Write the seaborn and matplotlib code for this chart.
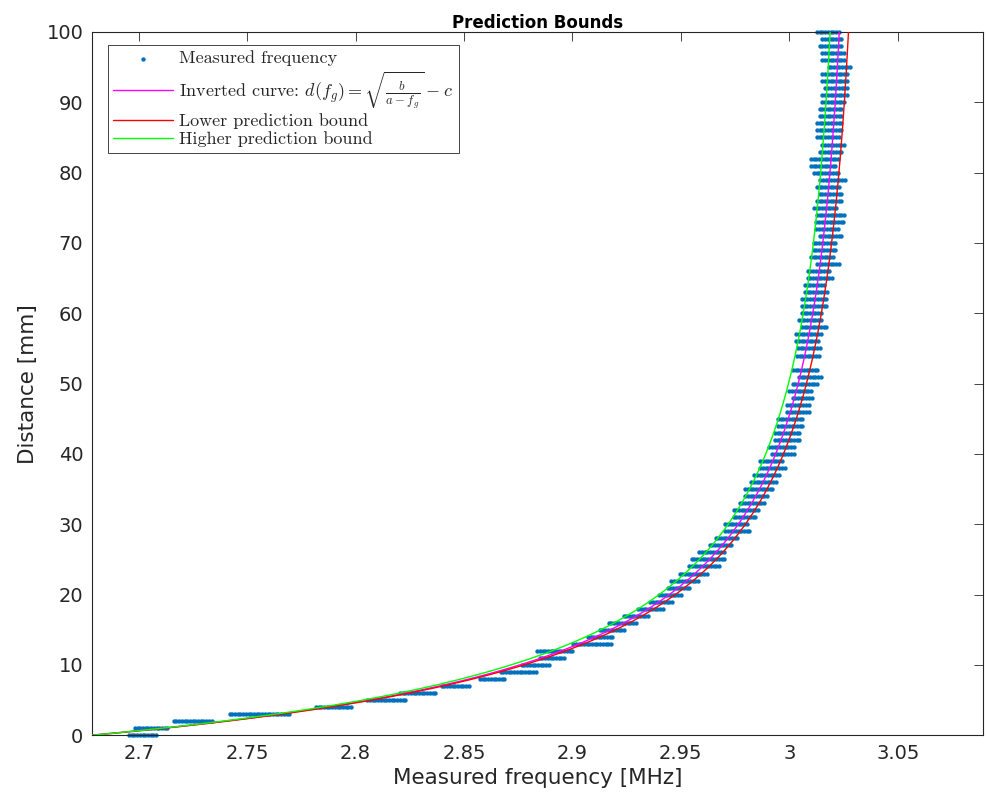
import numpy as np
import pandas as pd
import matplotlib
matplotlib.use("Agg")
import matplotlib.pyplot as plt
import seaborn as sns

# distance steps (mm), nothing was logged at 53 mm
distance = [d for d in range(101) if d != 53]

# lowest and highest frequency seen at each distance (MHz)
f_low = [2.6955, 2.6982, 2.7161, 2.7419, 2.7817, 2.8054, 2.8205, 2.8397, 2.8574, 2.8669,
         2.8766, 2.8849, 2.8837, 2.9003, 2.9071, 2.9126, 2.9167, 2.9236, 2.9304, 2.9359,
         2.9400, 2.9439, 2.9455, 2.9494, 2.9539, 2.9550, 2.9585, 2.9633, 2.9660, 2.9704,
         2.9704, 2.9743, 2.9743, 2.9771, 2.9797, 2.9797, 2.9825, 2.9839, 2.9866, 2.9866,
         2.9920, 2.9908, 2.9934, 2.9934, 2.9948, 2.9948, 2.9989, 2.9989, 3.0015, 3.0001,
         3.0015, 3.0045, 3.0017, 3.0035, 3.0040, 3.0032, 3.0032, 3.0058, 3.0045,
         3.0058, 3.0058, 3.0058, 3.0072, 3.0072, 3.0085, 3.0085, 3.0128, 3.0100, 3.0112,
         3.0112, 3.0140, 3.0124, 3.0124, 3.0128, 3.0114, 3.0128, 3.0140, 3.0128, 3.0143,
         3.0114, 3.0100, 3.0100, 3.0140, 3.0153, 3.0128, 3.0128, 3.0128, 3.0140, 3.0140,
         3.0153, 3.0153, 3.0167, 3.0153, 3.0153, 3.0181, 3.0153, 3.0153, 3.0140, 3.0153,
         3.0128]
f_high = [2.7089, 2.7143, 2.7347, 2.7704, 2.7981, 2.8229, 2.8379, 2.8531, 2.8697, 2.8832,
          2.8900, 2.8972, 2.9001, 2.9178, 2.9190, 2.9247, 2.9301, 2.9356, 2.9425, 2.9467,
          2.9508, 2.9550, 2.9590, 2.9630, 2.9682, 2.9700, 2.9700, 2.9740, 2.9770, 2.9823,
          2.9810, 2.9851, 2.9863, 2.9893, 2.9905, 2.9931, 2.9946, 2.9959, 2.9986, 2.9974,
          3.0028, 3.0028, 3.0055, 3.0055, 3.0069, 3.0069, 3.0097, 3.0097, 3.0112, 3.0112,
          3.0138, 3.0152, 3.0140, 3.0140, 3.0150, 3.0140, 3.0152, 3.0180, 3.0152,
          3.0152, 3.0180, 3.0180, 3.0180, 3.0164, 3.0207, 3.0192, 3.0235, 3.0207, 3.0220,
          3.0220, 3.0247, 3.0235, 3.0250, 3.0263, 3.0220, 3.0247, 3.0247, 3.0235, 3.0261,
          3.0235, 3.0220, 3.0235, 3.0247, 3.0261, 3.0235, 3.0247, 3.0247, 3.0247, 3.0247,
          3.0261, 3.0275, 3.0275, 3.0275, 3.0275, 3.0289, 3.0261, 3.0261, 3.0247, 3.0247,
          3.0232]
f_step = 0.00125  # counter resolution (MHz)

# f = a - b/(d+c)^2  ->  d(f) = sqrt(b/(a-f)) - c
fit_abc = (3.0328, 140.0, 19.85)
lower_abc = (3.0373, 144.2, 20.05)
higher_abc = (3.0288, 144.1, 20.28)

xticks = [2.7, 2.75, 2.8, 2.85, 2.9, 2.95, 3.0, 3.05]
xticklabels = ["2.7", "2.75", "2.8", "2.85", "2.9", "2.95", "3", "3.05"]
yticks = list(range(0, 101, 10))

# one dot per resolution step inside each cluster
rows = []
for d, lo, hi in zip(distance, f_low, f_high):
    for f in np.arange(lo, hi + 1e-6, f_step):
        rows.append((f, d))
dots = pd.DataFrame(rows, columns=["f", "d"])

def curve(abc):
    a, b, c = abc
    dd = np.linspace(0, 101, 500)
    return pd.DataFrame({"f": a - b / (dd + c) ** 2, "d": dd})

sns.set_style("white")
plt.rcParams["mathtext.fontset"] = "cm"
plt.rcParams["font.family"] = ["DejaVu Sans"]

fig = plt.figure(figsize=(9.87, 7.96), dpi=100)
ax = fig.add_axes([0.0929, 0.0763, 0.9034, 0.8835])

sns.scatterplot(data=dots, x="f", y="d", ax=ax, s=10, color="#0072BD", linewidth=0,
                marker="o", clip_on=False, label="Measured frequency", zorder=2)
sns.lineplot(data=curve(fit_abc), x="f", y="d", ax=ax, sort=False, estimator=None,
             color="#FF00FF", linewidth=1.0, zorder=3,
             label=r"Inverted curve: $d(f_g) = \sqrt{\frac{b}{a-f_g}} - c$")
sns.lineplot(data=curve(lower_abc), x="f", y="d", ax=ax, sort=False, estimator=None,
             color="#FF0000", linewidth=1.0, zorder=3,
             label="Lower prediction bound")
sns.lineplot(data=curve(higher_abc), x="f", y="d", ax=ax, sort=False, estimator=None,
             color="#00FF00", linewidth=1.0, zorder=3,
             label="Higher prediction bound")

ax.set_xlim(2.6783, 3.0895)
ax.set_ylim(0, 100)
ax.set_xticks(xticks)
ax.set_xticklabels(xticklabels)
ax.set_yticks(yticks)
ax.tick_params(direction="in", length=6.5, width=0.6, color="#262626", labelcolor="#262626",
               labelsize=14, top=True, right=True, pad=6)
for sp in ax.spines.values():
    sp.set_color("#262626")
    sp.set_linewidth(0.8)
    sp.set_visible(True)

ax.set_xlabel("Measured frequency [MHz]", fontsize=15.5, color="#262626", labelpad=4)
ax.set_ylabel("Distance [mm]", fontsize=15.5, color="#262626", labelpad=6)
ax.set_title("Prediction Bounds", fontsize=12, fontweight="bold", color="black", pad=3)

leg = ax.legend(loc="upper left", bbox_to_anchor=(0.0183, 0.9815), borderaxespad=0,
                prop={"family": "cmr10", "size": 13}, frameon=True, fancybox=False,
                framealpha=1, edgecolor="#262626", handlelength=3.3, handletextpad=0.35,
                borderpad=0.3, labelspacing=0.14, scatterpoints=1, markerscale=1.0)
leg.get_frame().set_linewidth(0.6)

fig.savefig("out.png", dpi=100)
